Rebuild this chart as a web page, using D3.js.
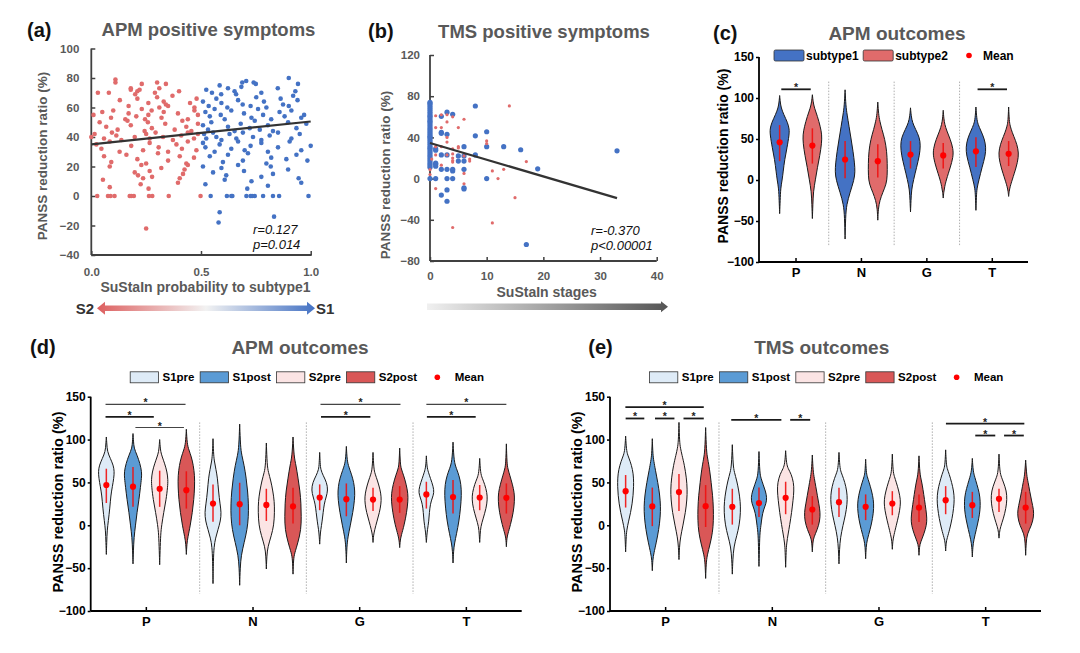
<!DOCTYPE html>
<html><head><meta charset="utf-8">
<script src="https://cdn.jsdelivr.net/npm/d3@7"></script>
<style>
body{margin:0;background:#fff;}
svg{font-family:"Liberation Sans",Arial,sans-serif;}
</style></head><body>
<svg id="chart" width="1080" height="653"></svg>
<script>
// ---------------- DATA ----------------
// (a) APM positive symptoms: [SuStaIn probability to subtype1, PANSS reduction ratio]
const aS2 = [[0.11,79],[0.11,77],[0.23,76],[0.30,77],[0.34,76],[0.18,73],
[0.03,70],[0.08,70],[0.18,72],[0.20,69],[0.21,71],[0.22,72],[0.29,70],[0.31,73],[0.37,68],[0.40,71],
[0.13,65],[0.17,61],[0.21,66],[0.26,63],[0.30,67],[0.31,60],[0.33,64],[0.34,62],[0.35,61],[0.45,63],[0.47,60],[0.48,66],
[0.01,55],[0.05,57],[0.09,53],[0.10,58],[0.155,52],[0.17,56],[0.205,54],[0.23,59],[0.245,52],[0.26,55],[0.275,58],[0.32,53],[0.33,57],[0.395,56],[0.44,52],[0.47,58],[0.486,55],
[0.038,50],[0.068,47],[0.12,45],[0.165,51],[0.18,48],[0.243,44],[0.258,50],[0.276,46],[0.337,49],[0.38,45],[0.415,51],[0.433,47],[0.456,44],[0.486,49],
[0.0,40],[0.015,42],[0.058,39],[0.094,43],[0.114,41],[0.137,38],[0.198,40],[0.25,42],[0.266,39],[0.293,43],[0.327,40],[0.372,38],[0.41,41],[0.44,43],[0.468,39],[0.486,42],
[0.023,35],[0.046,32],[0.084,37],[0.129,30],[0.182,34],[0.236,31],[0.266,36],[0.307,33],[0.35,30],[0.388,35],[0.413,32],[0.44,37],[0.479,31],
[0.058,27],[0.091,23],[0.16,28],[0.21,25],[0.25,22],[0.304,29],[0.35,24],[0.403,27],[0.433,22],[0.468,26],
[0.084,20],[0.198,16],[0.213,14],[0.228,21],[0.266,17],[0.277,13],[0.319,19],[0.418,15],[0.425,18],[0.44,21],
[0.053,11],[0.084,6],[0.225,8],[0.236,12],[0.261,5],[0.395,9],[0.403,12],
[0.027,0],[0.076,0],[0.088,0],[0.106,0],[0.175,0],[0.182,0],[0.194,0],[0.263,0],[0.278,0],[0.353,0],[0.498,0],
[0.25,-22]];
const aS1 = [[0.585,75],[0.688,77],[0.706,78],[0.74,77],[0.75,76],[0.9,80],[0.942,76],
[0.524,72],[0.55,70],[0.592,69],[0.623,73],[0.653,71],[0.66,69],[0.684,74],[0.775,70],[0.85,73],[0.92,68],[0.93,71],
[0.509,64],[0.535,61],[0.57,66],[0.593,63],[0.62,60],[0.669,65],[0.69,62],[0.726,61],[0.752,67],[0.787,64],[0.798,60],[0.863,66],[0.874,62],[0.9,61],[0.94,65],
[0.52,57],[0.54,54],[0.562,59],[0.59,55],[0.608,52],[0.638,58],[0.696,56],[0.73,53],[0.76,59],[0.783,55],[0.82,52],[0.858,57],[0.881,54],[0.912,58],[0.957,53],[0.97,55],
[0.509,48],[0.532,45],[0.547,50],[0.623,47],[0.653,44],[0.681,49],[0.722,46],[0.745,51],[0.768,45],[0.805,48],[0.828,44],[0.897,50],[0.935,46],[0.98,49],
[0.514,42],[0.524,39],[0.555,43],[0.57,40],[0.593,38],[0.63,42],[0.661,39],[0.691,43],[0.737,40],[0.775,38],[0.813,41],[0.851,43],[0.912,39],[0.95,42],
[0.509,36],[0.52,33],[0.562,30],[0.585,35],[0.638,32],[0.669,37],[0.699,31],[0.726,34],[0.775,36],[0.805,30],[0.851,33],[0.904,37],[0.957,31],[1.0,34],
[0.54,27],[0.6,23],[0.623,28],[0.691,24],[0.714,29],[0.798,22],[0.82,26],[0.889,25],[0.935,28],[0.985,24],
[0.509,20],[0.555,16],[0.593,19],[0.615,14],[0.669,21],[0.696,17],[0.775,13],[0.818,20],[0.828,15],[0.897,18],
[0.52,8],[0.608,11],[0.711,5],[0.73,10],[0.805,7],[0.945,12],[0.957,9],
[0.544,0],[0.618,0],[0.638,0],[0.643,0],[0.707,0],[0.726,0],[0.733,0],[0.745,0],[0.783,0],[0.828,0],[0.856,0],[0.99,0],
[0.585,-11],[0.58,-18],[0.833,-14]];
const aTrend = [[0,35],[1,50.5]];
const aStats = ["r=0.127","p=0.014"];
const aXTicks = [0,0.5,1];
const aYTicks = [-40,-20,0,20,40,60,80,100];

// (b) TMS positive symptoms: [SuStaIn stage, PANSS reduction ratio]
const bS1 = [[0,74],[0,73],[0,71],[0,69],[0,67],[0,65],[0,63],[0,61],[0,60],[0,58],[0,56],[0,55],[0,53],[0,51],[0,49],[0,47],[0,45],[0,43],[0,41],[0,40],[0,38],[0,36],[0,34],[0,32],[0,30],[0,29],[0,27],[0,25],[0,23],[0,21],[0,19],[0,17],[0,15],[0,13],[0,11],[0,0],
[1,29],[1,27.5],[1,15],[1,14],[1,12],[1,0],[2,60.5],[2,45],[2,44],[2,23],[2,9],[2,-16],[3,64.5],[3,43],[3,23],[3,9],[3,0],[3,-11],[3,-22],
[4,62.5],[4,9],[4,7.5],[4,0],[5,22],[5,17],[6,31],[6,22],[6,17],[6,9],[6,-9],[6,-10],[8,70.5],[8,41.5],[8,23],[10,45.5],[10,31],[10,0],
[13,31],[16,28],[19,9.5],[17,-64],[33,27]];
const bS2 = [[0,8.7],[0,4],[0.3,19],[1,61],[1,49.5],[1,31],[1,23],[1,-9.7],[2,62],[2,49.5],[2,31],[2,13],[3,62],[3,55],[3,40],[3,35.5],[3,23],
[4,60],[4,29],[4,24],[4,20],[4,17.5],[4,16],[4,-47.5],[5,49.5],[5,31],[5,29.8],[6,57.6],[6,22],[6,5],[6,-5],[7,19],[7,17],
[10,36.6],[10,34],[11,7.5],[11,-43],[12,0],[13,9],[14,70.6],[15,-18.5],[17,16.5]];
const bTrend = [[0,34.6],[33,-19]];
const bStats = ["r=-0.370","p<0.00001"];
const bXTicks = [0,10,20,30,40];
const bYTicks = [-80,-40,0,40,80,120];

// shared categories / ticks for violin panels
const categories = ["P","N","G","T"];
const violinYTicks = [-100,-50,0,50,100,150];

// (c) APM outcomes by subtype: density = half-width profile [value, density]
const cGroups = ["subtype1","subtype2"];
const cViolins = [
 {cat:"P",grp:0,mean:46,lo:23,hi:67,dens:[[-41,0],[-25,0.5],[-10,1],[0,2.5],[10,3.5],[25,5],[40,7.5],[55,9.5],[62,9.7],[70,8],[80,4],[88,1.5],[95,0.6],[103,0]]},
 {cat:"P",grp:1,mean:42,lo:20,hi:63,dens:[[-47,0],[-30,0.5],[-14,1],[0,3],[15,5],[30,7.5],[45,9.3],[55,9.5],[65,8],[78,5],[88,2],[95,0.8],[104,0]]},
 {cat:"N",grp:0,mean:25,lo:2,hi:47.5,dens:[[-72,0],[-45,0.5],[-30,1.5],[-15,5],[0,9],[10,10],[20,9.5],[35,8],[50,6],[65,4],[80,2],[90,0.8],[110,0]]},
 {cat:"N",grp:1,mean:23,lo:3,hi:43.5,dens:[[-49,0],[-35,0.5],[-25,2],[-15,5],[-5,8.5],[5,9.5],[20,9.5],[35,9],[50,7],[62,4],[72,2],[80,0.8],[95,0]]},
 {cat:"G",grp:0,mean:31,lo:14,hi:47.5,dens:[[-39,0],[-25,0.5],[-12,1],[0,3],[15,6],[30,9],[42,10],[52,9],[62,5],[70,2],[78,0.7],[88,0]]},
 {cat:"G",grp:1,mean:30,lo:14,hi:45,dens:[[-22,0],[-15,0.5],[-8,1.5],[0,3],[15,7],[28,10],[38,10],[50,7],[60,3.5],[68,1.5],[75,0.6],[85,0]]},
 {cat:"T",grp:0,mean:35,lo:16,hi:52,dens:[[-37,0],[-20,0.5],[-10,1],[0,3],[15,6],[30,9.5],[40,10],[50,8.5],[60,5],[68,2],[75,0.8],[89,0]]},
 {cat:"T",grp:1,mean:32,lo:17,hi:47.5,dens:[[-20,0],[-14,0.5],[-8,1.5],[0,3.5],[15,7.5],[28,10],[38,9.5],[48,7],[58,3.5],[66,1.5],[72,0.6],[89,0]]}
];
const cSig = [{cat:"P",a:0.05,b:0.95,y:110.6},{cat:"T",a:0.05,b:0.95,y:110.6}];

// (d) APM outcomes pre/post
const dGroups = ["S1pre","S1post","S2pre","S2post"];
const dViolins = [
 {cat:"P",grp:0,mean:47,lo:26,hi:66,dens:[[-34,0],[-20,0.4],[-6,0.8],[5,2],[20,3.5],[35,4.5],[45,6],[55,7.5],[63,8],[70,7],[78,4],[86,1],[95,0.5],[103,0]]},
 {cat:"P",grp:1,mean:45,lo:21.5,hi:68,dens:[[-45,0],[-30,0.4],[-14,1],[0,2.5],[15,4],[30,6],[45,7.5],[55,8.5],[62,8.8],[72,7],[82,4],[90,1],[98,0.5],[107,0]]},
 {cat:"P",grp:2,mean:42.6,lo:21.5,hi:63.7,dens:[[-46,0],[-30,0.4],[-10,1],[0,2],[15,4],[30,6.5],[45,8],[53,8.3],[62,7.5],[72,5],[80,2.5],[86,1],[92,0.5],[100,0]]},
 {cat:"P",grp:3,mean:41,lo:19.5,hi:63,dens:[[-34,0],[-22,0.5],[-14,1.5],[0,4],[15,6],[30,7.5],[45,8.3],[58,8.3],[70,7],[80,5],[88,2.5],[95,0.8],[112,0]]},
 {cat:"N",grp:0,mean:25.4,lo:4,hi:47.7,dens:[[-68,0],[-40,0.4],[-25,1],[-15,2.5],[-5,5],[5,7.5],[15,8.3],[25,7],[40,5.5],[55,4.5],[65,3],[75,1.2],[85,0.5],[101,0]]},
 {cat:"N",grp:1,mean:24.6,lo:0,hi:49.6,dens:[[-70,0],[-50,0.5],[-35,1.5],[-20,4.5],[-5,7.5],[10,8.8],[25,8.8],[40,8],[55,6.5],[70,4.5],[82,2],[92,0.8],[118,0]]},
 {cat:"N",grp:2,mean:23.8,lo:5,hi:42.6,dens:[[-51,0],[-35,0.5],[-25,1.5],[-12,5],[0,7.5],[15,8.2],[28,8],[40,6.5],[52,4.5],[62,2],[70,0.8],[96,0]]},
 {cat:"N",grp:3,mean:22,lo:2,hi:43.8,dens:[[-57,0],[-40,0.5],[-33,1.5],[-20,5],[-5,8],[10,8.3],[25,8],[40,7],[55,5],[70,3],[80,1],[103,0]]},
 {cat:"G",grp:0,mean:32.4,lo:17.6,hi:47.7,dens:[[-22,0],[-12,0.5],[-6,1],[5,2.5],[15,3.5],[25,4.5],[33,6.5],[41,8.3],[50,7],[58,3.5],[65,1],[72,0.5],[85,0]]},
 {cat:"G",grp:1,mean:30.5,lo:10.5,hi:48.8,dens:[[-44,0],[-25,0.5],[-14,1.5],[0,4],[15,6.5],[30,8.3],[40,8.5],[50,7.5],[60,5],[68,2.5],[75,0.8],[92,0]]},
 {cat:"G",grp:2,mean:30,lo:16.8,hi:43.8,dens:[[-20,0],[-12,0.5],[-6,1.5],[5,4],[15,6.5],[25,8],[33,8.3],[42,7],[52,4.5],[60,2],[66,0.8],[85,0]]},
 {cat:"G",grp:3,mean:30,lo:14.5,hi:45.7,dens:[[-26,0],[-18,0.5],[-12,1.5],[0,4.5],[15,7],[28,8.3],[37,8.3],[48,6.5],[58,4],[66,1.5],[72,0.6],[90,0]]},
 {cat:"T",grp:0,mean:36,lo:19.5,hi:50.8,dens:[[-20,0],[-12,0.5],[-6,1],[5,2.5],[15,3],[25,4],[32,6],[38,7.7],[45,7],[55,4],[62,2],[68,0.6],[81,0]]},
 {cat:"T",grp:1,mean:33,lo:13.7,hi:52.7,dens:[[-44,0],[-30,0.5],[-21,1.5],[-10,3.5],[5,6],[20,7.5],[35,8.5],[48,8],[58,6],[66,3.5],[74,1],[97,0]]},
 {cat:"T",grp:2,mean:32.4,lo:17.6,hi:47,dens:[[-20,0],[-10,0.5],[-2,1],[8,3.5],[20,6.5],[30,7.7],[38,7.3],[48,5],[55,2.5],[61,0.8],[78,0]]},
 {cat:"T",grp:3,mean:32,lo:13.7,hi:48.8,dens:[[-25,0],[-15,0.5],[-10,1.5],[0,4],[15,7],[28,8.2],[38,8],[48,6],[58,3.5],[66,1.5],[72,0.6],[95,0]]}
];
const dSig = [
 {cat:"P",a:-0.03,b:2.97,y:141,thin:true},{cat:"P",a:-0.03,b:1.78,y:126.5},{cat:"P",a:1.09,b:2.91,y:114,thin:true},
 {cat:"G",a:0.03,b:3.03,y:141,thin:true},{cat:"G",a:0.05,b:1.9,y:126.5},
 {cat:"T",a:0,b:3,y:141,thin:true},{cat:"T",a:0.02,b:1.85,y:126.5}
];

// (e) TMS outcomes pre/post
const eViolins = [
 {cat:"P",grp:0,mean:39.8,lo:20.7,hi:58.6,dens:[[-31,0],[-15,0.5],[-6,1],[5,3],[15,5],[25,6.5],[35,7.5],[45,8],[55,8],[65,7],[75,4.5],[82,2],[88,0.8],[104,0]]},
 {cat:"P",grp:1,mean:22,lo:-1,hi:44,dens:[[-53,0],[-40,0.5],[-33,1.5],[-20,4],[-5,6.5],[10,8],[22,8.3],[35,7.5],[50,5.5],[65,3],[75,1.5],[82,0.6],[101,0]]},
 {cat:"P",grp:2,mean:38.7,lo:16.8,hi:59.8,dens:[[-40,0],[-25,0.5],[-14,1.5],[0,4],[15,6.5],[30,8],[42,8.3],[55,7.5],[70,5.5],[82,3],[90,1.5],[97,0.6],[120,0]]},
 {cat:"P",grp:3,mean:22.3,lo:-2,hi:46.9,dens:[[-62,0],[-45,0.5],[-35,1.5],[-22,4.5],[-8,7],[5,7.8],[20,7.8],[35,7],[50,5.5],[65,4],[78,2],[86,0.8],[114,0]]},
 {cat:"N",grp:0,mean:21.5,lo:0.8,hi:42.6,dens:[[-57,0],[-40,0.5],[-25,1.5],[-12,4.5],[0,7],[15,8.3],[28,8],[40,6.5],[52,4.5],[62,2],[70,0.8],[94,0]]},
 {cat:"N",grp:1,mean:26,lo:9.8,hi:44,dens:[[-48,0],[-30,0.4],[-10,0.8],[0,2],[10,3],[18,4.5],[25,7],[32,8],[40,6.5],[48,4],[55,2],[61,0.8],[86,0]]},
 {cat:"N",grp:2,mean:32,lo:12.9,hi:50.8,dens:[[-49,0],[-30,0.5],[-21,1],[-10,2.5],[0,4],[15,6],[30,7.5],[40,8.3],[50,8],[60,5.5],[66,2.5],[72,0.8],[87,0]]},
 {cat:"N",grp:3,mean:18.4,lo:0.8,hi:34,dens:[[-31,0],[-20,0.5],[-14,1.5],[-5,5],[5,7.5],[15,8],[25,6.5],[35,5],[45,3.5],[55,2],[63,0.8],[82,0]]},
 {cat:"G",grp:0,mean:27,lo:9.8,hi:43.8,dens:[[-45,0],[-28,0.5],[-14,1.5],[0,4],[12,6.5],[25,8.2],[35,8.3],[45,7],[55,4.5],[62,2],[68,0.8],[85,0]]},
 {cat:"G",grp:1,mean:21.5,lo:6,hi:36,dens:[[-39,0],[-25,0.5],[-17,1.5],[-5,4.5],[8,7],[20,8.2],[30,7.8],[40,6],[50,3.5],[57,1.5],[62,0.6],[77,0]]},
 {cat:"G",grp:2,mean:25.4,lo:11.7,hi:39.8,dens:[[-28,0],[-18,0.5],[-12,1.5],[0,4],[12,6.5],[22,8],[30,8.2],[40,6.5],[50,4],[57,2],[63,0.7],[83,0]]},
 {cat:"G",grp:3,mean:20.7,lo:3.9,hi:36,dens:[[-35,0],[-25,0.5],[-20,1.5],[-10,5],[0,7.5],[8,8],[18,7],[30,5.5],[42,4],[52,2.5],[60,0.8],[81,0]]},
 {cat:"T",grp:0,mean:29.3,lo:12.9,hi:45.7,dens:[[-30,0],[-20,0.5],[-15,1.5],[-5,4],[8,6.5],[20,8],[30,8.7],[40,8],[50,6],[60,3.5],[66,1.5],[72,0.6],[88,0]]},
 {cat:"T",grp:1,mean:23.4,lo:8.6,hi:39,dens:[[-37,0],[-25,0.5],[-17,1.5],[-5,4],[8,6.5],[18,7.8],[28,8],[38,7],[48,4.5],[56,2.5],[63,0.8],[78,0]]},
 {cat:"T",grp:2,mean:30.9,lo:15.6,hi:42.6,dens:[[-15,0],[-8,0.5],[-2,1.5],[8,4.5],[20,7],[30,8],[40,7.5],[50,4.5],[56,2.5],[62,0.8],[83,0]]},
 {cat:"T",grp:3,mean:20.7,lo:2,hi:39,dens:[[-35,0],[-20,0.5],[-10,1.5],[0,6],[10,8],[18,8],[28,6],[40,4],[50,2.5],[58,1],[76,0]]}
];
const eSig = [
 {cat:"P",a:-0.01,b:2.93,y:137.9},{cat:"P",a:0,b:0.7,y:124.6},{cat:"P",a:1.1,b:1.83,y:124.6},{cat:"P",a:2.17,b:2.93,y:124.6},
 {cat:"N",a:-0.04,b:1.84,y:123},{cat:"N",a:2.17,b:2.92,y:123},
 {cat:"T",a:0.01,b:2.95,y:118.7},{cat:"T",a:1.11,b:1.86,y:104.7},{cat:"T",a:2.19,b:2.93,y:104.7}
];

// ---------------- DRAWING ----------------
const svg = d3.select("#chart");
svg.append("rect").attr("width",1080).attr("height",653).attr("fill","#fff");
const GRAY = "#595959";
const BLUE = "#4472c4", RED = "#e06b6b";
const dColors = ["#deebf7","#5b9bd5","#fbe4e4","#d95757"];
const cColors = [BLUE, RED];

function addText(g, x, y, str, o={}) {
  const t = g.append("text").attr("x",x).attr("y",y).text(str)
    .attr("dy", o.dy || "0.35em")
    .attr("text-anchor", o.anchor || "start")
    .style("font-size", (o.size||12)+"px")
    .style("font-weight", o.weight || "bold")
    .style("font-style", o.style || "normal")
    .attr("fill", o.fill || "#000");
  if (o.rotate) t.attr("transform", `rotate(${o.rotate},${x},${y})`);
  return t;
}
function styleAxis(sel, color, fs) {
  sel.select(".domain").remove();
  sel.selectAll(".tick line").attr("stroke", color).attr("stroke-width", 1.5);
  sel.selectAll(".tick text").attr("fill", color).style("font-size", fs+"px").style("font-weight","bold");
}

const defs = svg.append("defs");
const gradA = defs.append("linearGradient").attr("id","gradA").attr("gradientUnits","userSpaceOnUse")
  .attr("x1",97).attr("x2",315).attr("y1",0).attr("y2",0);
gradA.append("stop").attr("offset","0%").attr("stop-color","#dd5f5f");
gradA.append("stop").attr("offset","50%").attr("stop-color","#f2f2f2");
gradA.append("stop").attr("offset","100%").attr("stop-color","#4472c4");
const gradB = defs.append("linearGradient").attr("id","gradB").attr("gradientUnits","userSpaceOnUse")
  .attr("x1",427).attr("x2",668).attr("y1",0).attr("y2",0);
gradB.append("stop").attr("offset","0%").attr("stop-color","#f0f0f0");
gradB.append("stop").attr("offset","100%").attr("stop-color","#555");

// ===== Panel (a) =====
(function(){
  const g = svg.append("g");
  const x = d3.scaleLinear().domain([0,1]).range([91.3,310.7]);
  const y = d3.scaleLinear().domain([-40,100]).range([255,48.5]);
  g.append("g").attr("transform",`translate(${x(0)},0)`)
    .call(d3.axisLeft(y).tickValues(aYTicks).tickSize(-4).tickPadding(12)).call(styleAxis, "#404040", 11.5)
    .selectAll(".tick text").attr("fill", GRAY);
  g.append("g").attr("transform",`translate(0,${y(-40)})`)
    .call(d3.axisBottom(x).tickValues(aXTicks).tickFormat(d3.format(".1f")).tickSize(-4).tickPadding(13)).call(styleAxis, "#404040", 11.5)
    .selectAll(".tick text").attr("fill", GRAY);
  g.append("line").attr("x1",x(0)).attr("x2",x(0)).attr("y1",y(100)).attr("y2",y(-40)).attr("stroke","#404040").attr("stroke-width",1.8);
  g.append("line").attr("x1",x(0)).attr("x2",x(1)+1).attr("y1",y(-40)).attr("y2",y(-40)).attr("stroke","#404040").attr("stroke-width",1.8);
  g.selectAll("circle.r").data(aS2).join("circle").attr("cx",d=>x(d[0])).attr("cy",d=>y(d[1])).attr("r",2.3).attr("fill",RED);
  g.selectAll("circle.b").data(aS1).join("circle").attr("cx",d=>x(d[0])).attr("cy",d=>y(d[1])).attr("r",2.3).attr("fill",BLUE);
  g.append("path").datum(aTrend).attr("d", d3.line().x(d=>x(d[0])).y(d=>y(d[1]))).attr("stroke","#333").attr("stroke-width",2.2).attr("fill","none");
  addText(g, 253, 229, aStats[0], {size:13, weight:"normal", style:"italic", fill:"#111"});
  addText(g, 253, 244, aStats[1], {size:13, weight:"normal", style:"italic", fill:"#111"});
  addText(g, 27, 30, "(a)", {size:20, fill:"#111"});
  addText(g, 208.5, 30, "APM positive symptoms", {size:18.5, anchor:"middle", fill:GRAY});
  addText(g, 205.5, 287, "SuStaIn probability to subtype1", {size:14, anchor:"middle", fill:GRAY});
  addText(g, 42.7, 156, "PANSS reduction ratio (%)", {size:13.5, anchor:"middle", fill:GRAY, rotate:-90});
  const cy = 308.3;
  g.append("path").attr("d", `M97,${cy} L105,${cy-6.5} L105,${cy-2.7} L307,${cy-2.7} L307,${cy-6.5} L315,${cy} L307,${cy+6.5} L307,${cy+2.7} L105,${cy+2.7} L105,${cy+6.5} Z`).attr("fill","url(#gradA)");
  addText(g, 94, cy, "S2", {size:15, anchor:"end", fill:"#333"});
  addText(g, 316, cy, "S1", {size:15, fill:"#333"});
})();

// ===== Panel (b) =====
(function(){
  const g = svg.append("g");
  const x = d3.scaleLinear().domain([0,40]).range([430,656.7]);
  const y = d3.scaleLinear().domain([-80,120]).range([261,55]);
  g.append("g").attr("transform",`translate(${x(0)},0)`)
    .call(d3.axisLeft(y).tickValues(bYTicks).tickSize(-4).tickPadding(10)).call(styleAxis, "#404040", 11.5)
    .selectAll(".tick text").attr("fill", GRAY);
  g.append("g").attr("transform",`translate(0,${y(-80)})`)
    .call(d3.axisBottom(x).tickValues(bXTicks).tickSize(-4).tickPadding(11)).call(styleAxis, "#404040", 11.5)
    .selectAll(".tick text").attr("fill", GRAY);
  g.append("line").attr("x1",x(0)).attr("x2",x(0)).attr("y1",y(120)).attr("y2",y(-80)).attr("stroke","#404040").attr("stroke-width",1.8);
  g.append("line").attr("x1",x(0)).attr("x2",x(40)).attr("y1",y(-80)).attr("y2",y(-80)).attr("stroke","#404040").attr("stroke-width",1.8);
  g.selectAll("circle.b").data(bS1).join("circle").attr("cx",d=>x(d[0])).attr("cy",d=>y(d[1])).attr("r",2.6).attr("fill",BLUE);
  g.selectAll("circle.r").data(bS2, d=>d).enter().append("circle").attr("cx",d=>x(d[0])).attr("cy",d=>y(d[1])).attr("r",1.6).attr("fill",RED);
  g.append("path").datum(bTrend).attr("d", d3.line().x(d=>x(d[0])).y(d=>y(d[1]))).attr("stroke","#333").attr("stroke-width",2.2).attr("fill","none");
  addText(g, 591, 230, bStats[0], {size:13, weight:"normal", style:"italic", fill:"#111"});
  addText(g, 591, 245, bStats[1], {size:13, weight:"normal", style:"italic", fill:"#111"});
  addText(g, 368, 31, "(b)", {size:20, fill:"#111"});
  addText(g, 544, 31.7, "TMS positive symptoms", {size:18.5, anchor:"middle", fill:GRAY});
  addText(g, 546.7, 292, "SuStaIn stages", {size:14, anchor:"middle", fill:GRAY});
  addText(g, 385, 175, "PANSS reduction ratio (%)", {size:13.5, anchor:"middle", fill:GRAY, rotate:-90});
  const cy = 306.7;
  g.append("path").attr("d", `M427,${cy-3.2} L661,${cy-3.2} L661,${cy-5.5} L668,${cy} L661,${cy+5.5} L661,${cy+3.2} L427,${cy+3.2} Z`).attr("fill","url(#gradB)");
})();

// ===== violin panel helper =====
function violinPanel(o) {
  const g = svg.append("g");
  const y = d3.scaleLinear().domain([-100,150]).range([o.y0, o.y1]);
  const x = d3.scaleBand().domain(categories).range(o.xr).padding(0);
  const bw = x.bandwidth();
  const n = o.nGroups;
  const vx = (cat, idx) => x(cat) + bw/2 + (idx - (n-1)/2) * bw / n;
  const w = d3.scaleLinear().domain([0,10]).range([0, o.maxHalf]);
  categories.slice(1).forEach(c => {
    g.append("line").attr("x1",x(c)).attr("x2",x(c)).attr("y1",y(120)).attr("y2",y(-80))
      .attr("stroke","#9a9a9a").attr("stroke-width",0.8).attr("stroke-dasharray","1.5,1.5");
  });
  g.append("g").attr("transform",`translate(${o.axisX},0)`)
    .call(d3.axisLeft(y).tickValues(violinYTicks).tickSize(3).tickPadding(2)).call(styleAxis, "#000", 12);
  g.append("g").attr("transform",`translate(0,${y(-100)})`)
    .call(d3.axisBottom(x).tickSize(-4).tickPadding(6)).call(styleAxis, "#000", 13);
  g.append("line").attr("x1",o.axisX).attr("x2",o.axisX).attr("y1",y(150)).attr("y2",y(-100)).attr("stroke","#000").attr("stroke-width",1.8);
  g.append("line").attr("x1",o.axisX).attr("x2",o.axisEnd).attr("y1",y(-100)).attr("y2",y(-100)).attr("stroke","#000").attr("stroke-width",1.8);
  o.violins.forEach(v => {
    const cx = vx(v.cat, v.grp);
    const area = d3.area().curve(d3.curveBasis)
      .y(d => y(d[0])).x0(d => cx - w(d[1])).x1(d => cx + w(d[1]));
    g.append("path").attr("d", area(v.dens)).attr("fill", o.colors[v.grp])
      .attr("stroke","#1a1a1a").attr("stroke-width",1);
    g.append("line").attr("x1",cx).attr("x2",cx).attr("y1",y(v.lo)).attr("y2",y(v.hi))
      .attr("stroke","#f01010").attr("stroke-width",1.5).attr("opacity",0.9);
    g.append("circle").attr("cx",cx).attr("cy",y(v.mean)).attr("r",3.1).attr("fill","#ff0000");
  });
  o.sig.forEach(s => {
    const xa = vx(s.cat, s.a), xb = vx(s.cat, s.b);
    g.append("line").attr("x1",xa).attr("x2",xb).attr("y1",y(s.y)).attr("y2",y(s.y))
      .attr("stroke", s.thin ? "#444" : "#1a1a1a").attr("stroke-width", s.thin ? 1.1 : 1.8);
    addText(g, (xa+xb)/2, y(s.y)+2, "*", {size:10.5, anchor:"middle", dy:"0", fill:"#222"});
  });
  return g;
}

// ===== Panel (c) =====
(function(){
  const g = violinPanel({y0:262, y1:57, xr:[763.3,1025], nGroups:2, maxHalf:10, axisX:759, axisEnd:1028,
    violins:cViolins, colors:cColors, sig:cSig});
  addText(g, 713, 33, "(c)", {size:20, fill:"#111"});
  addText(g, 897, 33.3, "APM outcomes", {size:19, anchor:"middle", fill:GRAY});
  addText(g, 723, 156, "PANSS reduction ratio (%)", {size:14, anchor:"middle", rotate:-90});
  const ly = 55.5;
  let lx = 774;
  cGroups.forEach((name,i) => {
    g.append("rect").attr("x",lx).attr("y",ly-5.5).attr("width",30).attr("height",11).attr("rx",1.5)
      .attr("fill",cColors[i]).attr("stroke","#333").attr("stroke-width",0.8);
    const t = addText(g, lx+32, ly, name, {size:12});
    lx = lx + 32 + t.node().getComputedTextLength() + 4.5;
  });
  g.append("circle").attr("cx",969).attr("cy",ly).attr("r",2.8).attr("fill","#ff0000");
  addText(g, 983, ly, "Mean", {size:12});
})();

// ===== Panels (d), (e) =====
function prePostPanel(o) {
  const ox = o.ox;
  const g = violinPanel({y0:611, y1:396.7, xr:[ox+2.3, ox+429], nGroups:4, maxHalf:10, axisX:ox, axisEnd:ox+431,
    violins:o.violins, colors:dColors, sig:o.sig});
  addText(g, o.labelX, 347.3, o.label, {size:20, fill:"#111"});
  addText(g, o.titleX, 347.3, o.title, {size:19, anchor:"middle", fill:GRAY});
  addText(g, o.yLabelX, 502, "PANSS reduction ratio (%)", {size:14.5, anchor:"middle", rotate:-90});
  const ly = 377.3;
  let lx = ox + 39.5;
  dGroups.forEach((name,i) => {
    g.append("rect").attr("x",lx).attr("y",ly-5.5).attr("width",28.3).attr("height",11)
      .attr("fill",dColors[i]).attr("stroke","#333").attr("stroke-width",0.8);
    const t = addText(g, lx+32.3, ly, name, {size:11.5});
    lx = lx + 32.3 + t.node().getComputedTextLength() + 5.7;
  });
  const dotX = lx + 14.5;
  g.append("circle").attr("cx",dotX).attr("cy",ly).attr("r",2.8).attr("fill","#ff0000");
  addText(g, dotX + 17.3, ly, "Mean", {size:11.5});
}
prePostPanel({ox:90.7, violins:dViolins, sig:dSig, label:"(d)", labelX:30, title:"APM outcomes", titleX:300, yLabelX:58.3});
prePostPanel({ox:610, violins:eViolins, sig:eSig, label:"(e)", labelX:588.3, title:"TMS outcomes", titleX:821.7, yLabelX:577.3});
</script></body></html>
